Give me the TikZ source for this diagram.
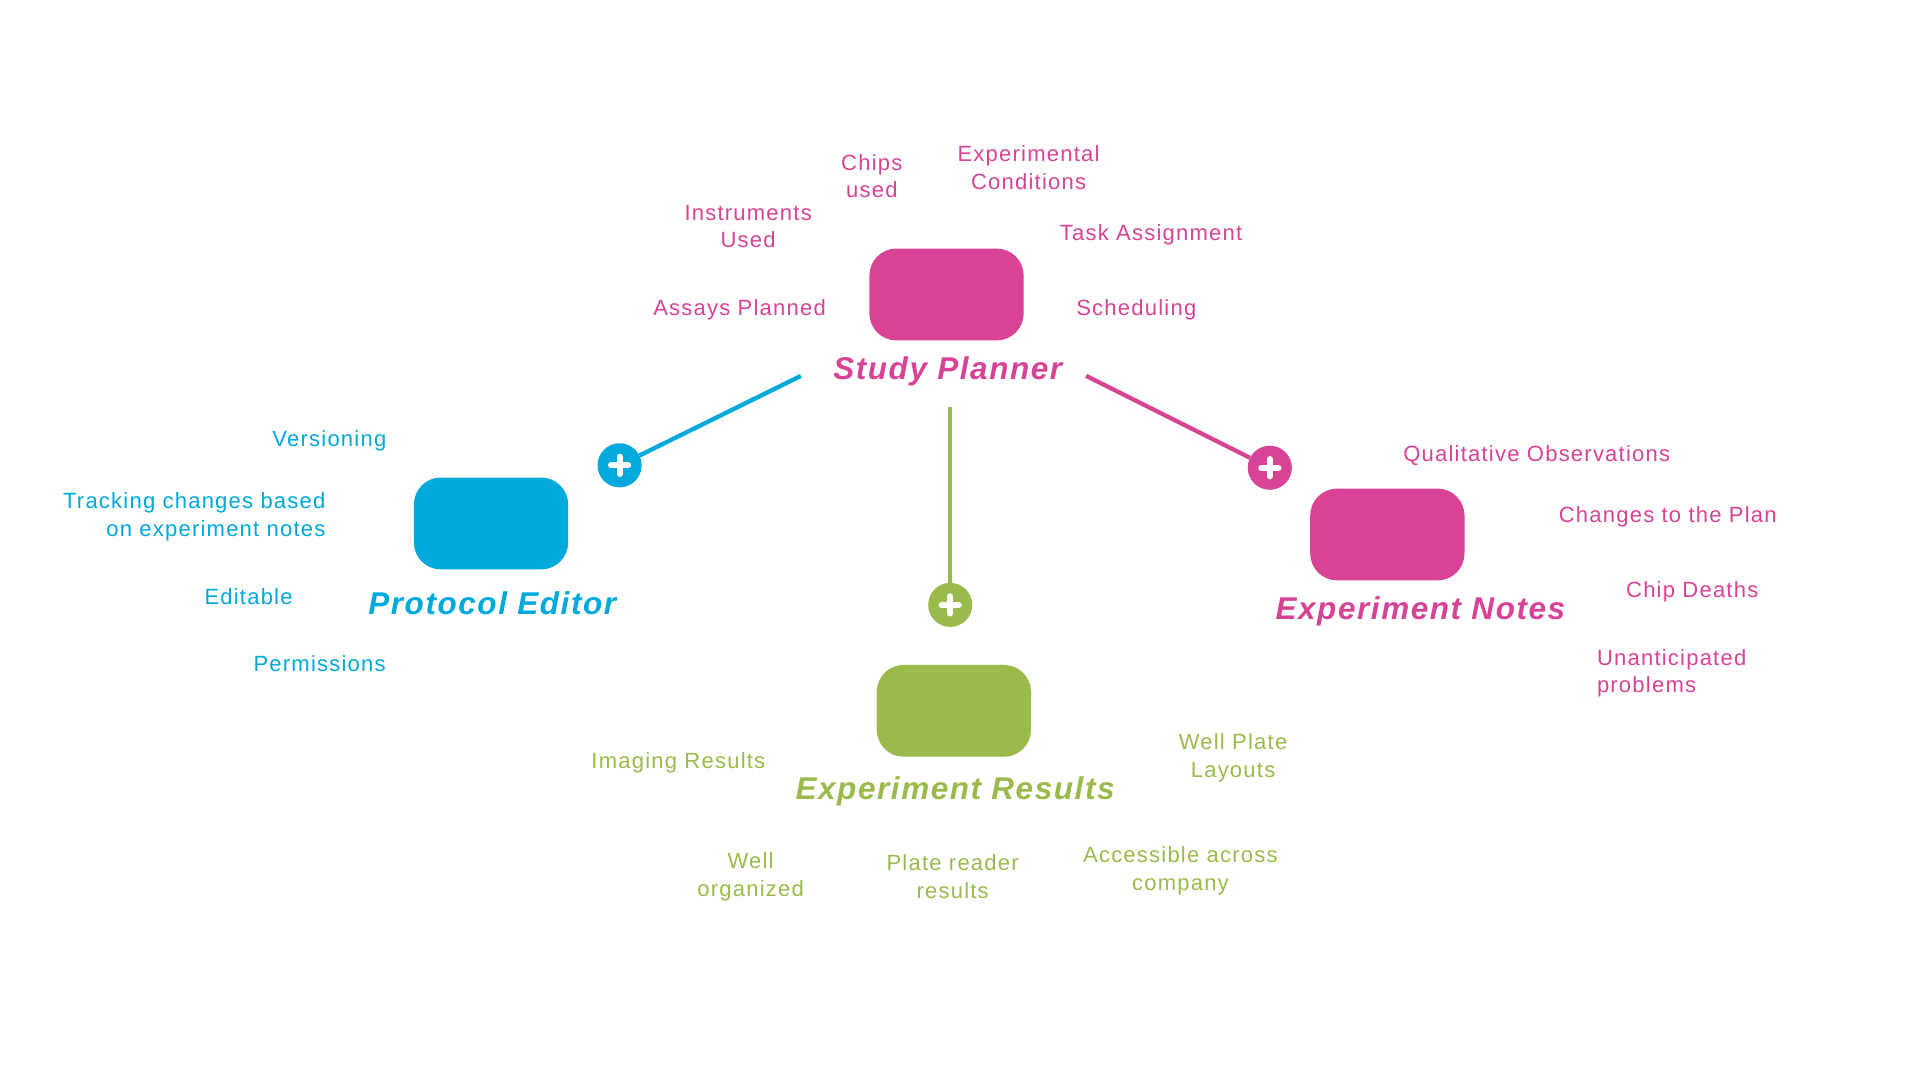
\documentclass[tikz,border=0pt]{standalone}
\usepackage{fontspec}
\setmainfont{Liberation Sans}
\newfontfamily\labfont[LetterSpace=5.5]{Liberation Sans}
\newfontfamily\titfont[LetterSpace=5,BoldItalicFont={Liberation Sans Bold Italic}]{Liberation Sans}
\definecolor{cpink}{HTML}{D94396}
\definecolor{cblue}{HTML}{00A9DB}
\definecolor{cgreen}{HTML}{9ABB4C}
\begin{document}
\begin{tikzpicture}[x=1pt,y=-1pt,
  lab/.style={font=\labfont\fontsize{18}{22.5}\selectfont, inner sep=0pt, align=center, yshift=-2pt},
  tit/.style={font=\titfont\fontsize{25.7}{30}\selectfont\bfseries\itshape, inner sep=0pt, yshift=-2pt},
  card/.style={rounded corners=22pt, minimum width=126pt, minimum height=75pt, inner sep=0pt},
  conn/.style={line width=3.5pt},
  plusc/.style={circle, minimum size=36pt, inner sep=0pt},
  plusbar/.style={white, line width=5pt, line cap=round}
]
\useasboundingbox (0,0) rectangle (1568,882);
% ---- Study Planner
\node[card, fill=cpink] (sp) at (773,240.5) {};
\node[tit, text=cpink] (spt) at (774,301) {Study Planner};
\node[lab, text=cpink] (sp1) at (712,142) {Chips\\used};
\node[lab, text=cpink] (sp2) at (840,135) {Experimental\\Conditions};
\node[lab, text=cpink] (sp3) at (611,183) {Instruments\\Used};
\node[lab, text=cpink] (sp4) at (940,190) {Task Assignment};
\node[lab, text=cpink] (sp5) at (604,251) {Assays Planned};
\node[lab, text=cpink] (sp6) at (928,251) {Scheduling};
% ---- Protocol Editor
\node[card, fill=cblue] (pe) at (401,427.5) {};
\node[tit, text=cblue] (pet) at (402,491) {Protocol Editor};
\node[lab, text=cblue] (pe1) at (269,358) {Versioning};
\node[lab, text=cblue, align=right, anchor=east] (pe2) at (266,420) {Tracking changes based\\on experiment notes};
\node[lab, text=cblue] (pe3) at (203,485) {Editable};
\node[lab, text=cblue] (pe4) at (261,540) {Permissions};
% ---- Experiment Notes
\node[card, fill=cpink] (en) at (1133,436.5) {};
\node[tit, text=cpink] (ent) at (1160,497) {Experiment Notes};
\node[lab, text=cpink] (en1) at (1255,370) {Qualitative Observations};
\node[lab, text=cpink] (en2) at (1362,420) {Changes to the Plan};
\node[lab, text=cpink] (en3) at (1382,481) {Chip Deaths};
\node[lab, text=cpink, align=left, anchor=west] (en4) at (1304,548) {Unanticipated\\problems};
% ---- Experiment Results
\node[card, fill=cgreen] (er) at (779,580.5) {};
\node[tit, text=cgreen] (ert) at (780,644) {Experiment Results};
\node[lab, text=cgreen] (er1) at (554,621) {Imaging Results};
\node[lab, text=cgreen] (er2) at (1007,617) {Well Plate\\Layouts};
\node[lab, text=cgreen] (er3) at (613,714) {Well\\organized};
\node[lab, text=cgreen] (er4) at (778,714) {Plate reader\\results};
\node[lab, text=cgreen] (er5) at (964,709) {Accessible across\\company};
% ---- connectors
\coordinate (cb) at (654,307);
\coordinate (cg) at (776,332);
\coordinate (cp) at (887,307);
\node[plusc, fill=cblue] (pb) at (506,380) {};
\node[plusc, fill=cgreen] (pg) at (776,494) {};
\node[plusc, fill=cpink] (pp) at (1037,382) {};
\draw[conn, cblue] (cb) -- (pb);
\draw[conn, cgreen] (cg) -- (pg);
\draw[conn, cpink] (cp) -- (pp);
\foreach \p in {pb,pg,pp}{
  \draw[plusbar] ([xshift=-7pt]\p.center) -- ([xshift=7pt]\p.center);
  \draw[plusbar] ([yshift=-7pt]\p.center) -- ([yshift=7pt]\p.center);
}
\end{tikzpicture}
\end{document}
